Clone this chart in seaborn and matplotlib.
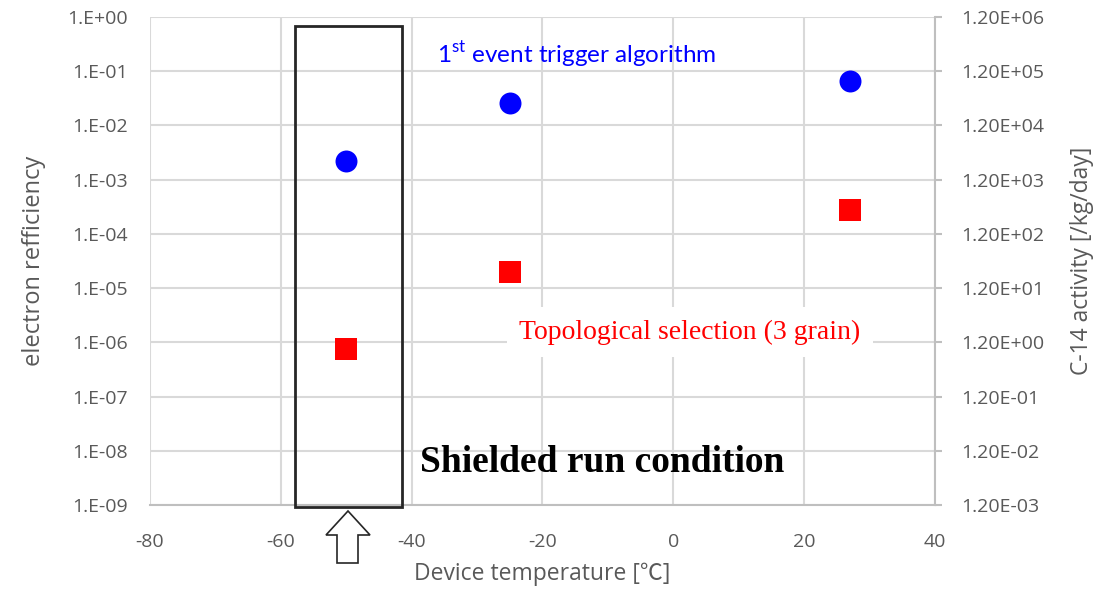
import matplotlib
matplotlib.use("Agg")
import matplotlib.pyplot as plt
import seaborn as sns
import numpy as np
import pandas as pd
from matplotlib.patches import Rectangle, Polygon
from matplotlib.ticker import FixedLocator, FixedFormatter

# ---- data ----
temperature = [-50, -25, 27]
trigger_eff = [2.2e-3, 2.6e-2, 6.5e-2]          # 1st event trigger algorithm
topo_eff = [7.4e-7, 2.0e-5, 2.7e-4]             # Topological selection (3 grain)
x_ticks = [-80, -60, -40, -20, 0, 20, 40]
left_ticks = [1e0, 1e-1, 1e-2, 1e-3, 1e-4, 1e-5, 1e-6, 1e-7, 1e-8, 1e-9]
left_labels = ["1.E+00", "1.E-01", "1.E-02", "1.E-03", "1.E-04",
               "1.E-05", "1.E-06", "1.E-07", "1.E-08", "1.E-09"]
right_ticks = [1.2e6, 1.2e5, 1.2e4, 1.2e3, 1.2e2, 1.2e1, 1.2e0, 1.2e-1, 1.2e-2, 1.2e-3]
right_labels = ["1.20E+06", "1.20E+05", "1.20E+04", "1.20E+03", "1.20E+02",
                "1.20E+01", "1.20E+00", "1.20E-01", "1.20E-02", "1.20E-03"]
shield_range = (-57.8, -41.5)

df = pd.DataFrame({"T": temperature, "trig": trigger_eff, "topo": topo_eff})

sns.set_theme(style="whitegrid")
plt.rcParams['font.family'] = ['Open Sans', 'Noto Sans CJK JP', 'DejaVu Sans']
plt.rcParams['axes.unicode_minus'] = False

W, H = 1103, 602
fig = plt.figure(figsize=(W / 100, H / 100), dpi=100)
ax = fig.add_axes([150 / W, 1 - 505 / H, 785 / W, 488 / H])

grid_c = '#d9d9d9'
tick_c = '#595959'

sns.scatterplot(data=df, x="T", y="trig", ax=ax, color='#0000FF', marker='o',
                s=250, linewidth=0, zorder=5)
sns.scatterplot(data=df, x="T", y="topo", ax=ax, color='#FF0000', marker='s',
                s=250, linewidth=0, zorder=5)

ax.set_yscale('log')
ax.set_xlim(-80, 40)
ax.set_ylim(1e-9, 1e0)
ax.set_xticks(x_ticks)
ax.yaxis.set_major_locator(FixedLocator(left_ticks))
ax.yaxis.set_major_formatter(FixedFormatter(left_labels))
ax.yaxis.set_minor_locator(FixedLocator([]))
ax.grid(True, color=grid_c, lw=1.5)
ax.set_facecolor('white')
for s in ['top', 'left', 'right']:
    ax.spines[s].set_visible(False)
ax.spines['bottom'].set_color('#bfbfbf')
ax.spines['bottom'].set_linewidth(1.5)
ax.tick_params(axis='both', length=0, labelsize=14, labelcolor=tick_c)
ax.tick_params(axis='y', pad=16)
ax.tick_params(axis='x', pad=20)
ax.set_xlabel("Device temperature [℃]", fontsize=16.5, color=tick_c, labelpad=8)
ax.set_ylabel("electron refficiency", fontsize=17, color=tick_c, labelpad=15)

ax2 = ax.twinx()
ax2.set_yscale('log')
ax2.set_ylim(1.2e-3, 1.2e6)
ax2.yaxis.set_major_locator(FixedLocator(right_ticks))
ax2.yaxis.set_major_formatter(FixedFormatter(right_labels))
ax2.yaxis.set_minor_locator(FixedLocator([]))
ax2.grid(False)
for s in ['top', 'left', 'bottom']:
    ax2.spines[s].set_visible(False)
ax2.spines['right'].set_color('#bfbfbf')
ax2.spines['right'].set_linewidth(1.5)
ax2.tick_params(axis='y', length=5, width=1.5, color='#bfbfbf', labelsize=14,
                labelcolor=tick_c, pad=14)
ax2.set_ylabel("C-14 activity [/kg/day]", fontsize=16.5, color=tick_c, labelpad=18)

# shielded run box
rect = Rectangle((shield_range[0], 9.1e-10), shield_range[1] - shield_range[0],
                 0.68 - 9.1e-10, fill=False, edgecolor='#262626', lw=2,
                 transform=ax.transData, clip_on=False, zorder=4)
ax.add_patch(rect)

# hollow arrow below the box
px = [(348, 511), (326, 535), (337, 535), (337, 563), (358, 563), (358, 535), (370, 535)]
arrow = Polygon([(x / W, 1 - y / H) for x, y in px], closed=True, fill=False,
                edgecolor='#262626', lw=1.2, transform=fig.transFigure)
fig.patches.append(arrow)

# annotations
ax.text(-36.1, 0.205, r"1$^{\mathregular{st}}$ event trigger algorithm", color='#0000FF',
        fontsize=17.5, family=['Lato', 'DejaVu Sans'], ha='left', va='center', zorder=6)
ax.text(2.5, 1.55e-6, "Topological selection (3 grain)", color='#FF0000',
        fontsize=20, family='Liberation Serif', ha='center', va='center', zorder=6,
        bbox=dict(facecolor='white', edgecolor='none', pad=9))
ax.text(-38.7, 6.0e-9, "Shielded run condition", color='black', fontsize=27,
        family='Liberation Serif', fontweight='bold', ha='left', va='center', zorder=6)

fig.savefig("out.png", dpi=100)
